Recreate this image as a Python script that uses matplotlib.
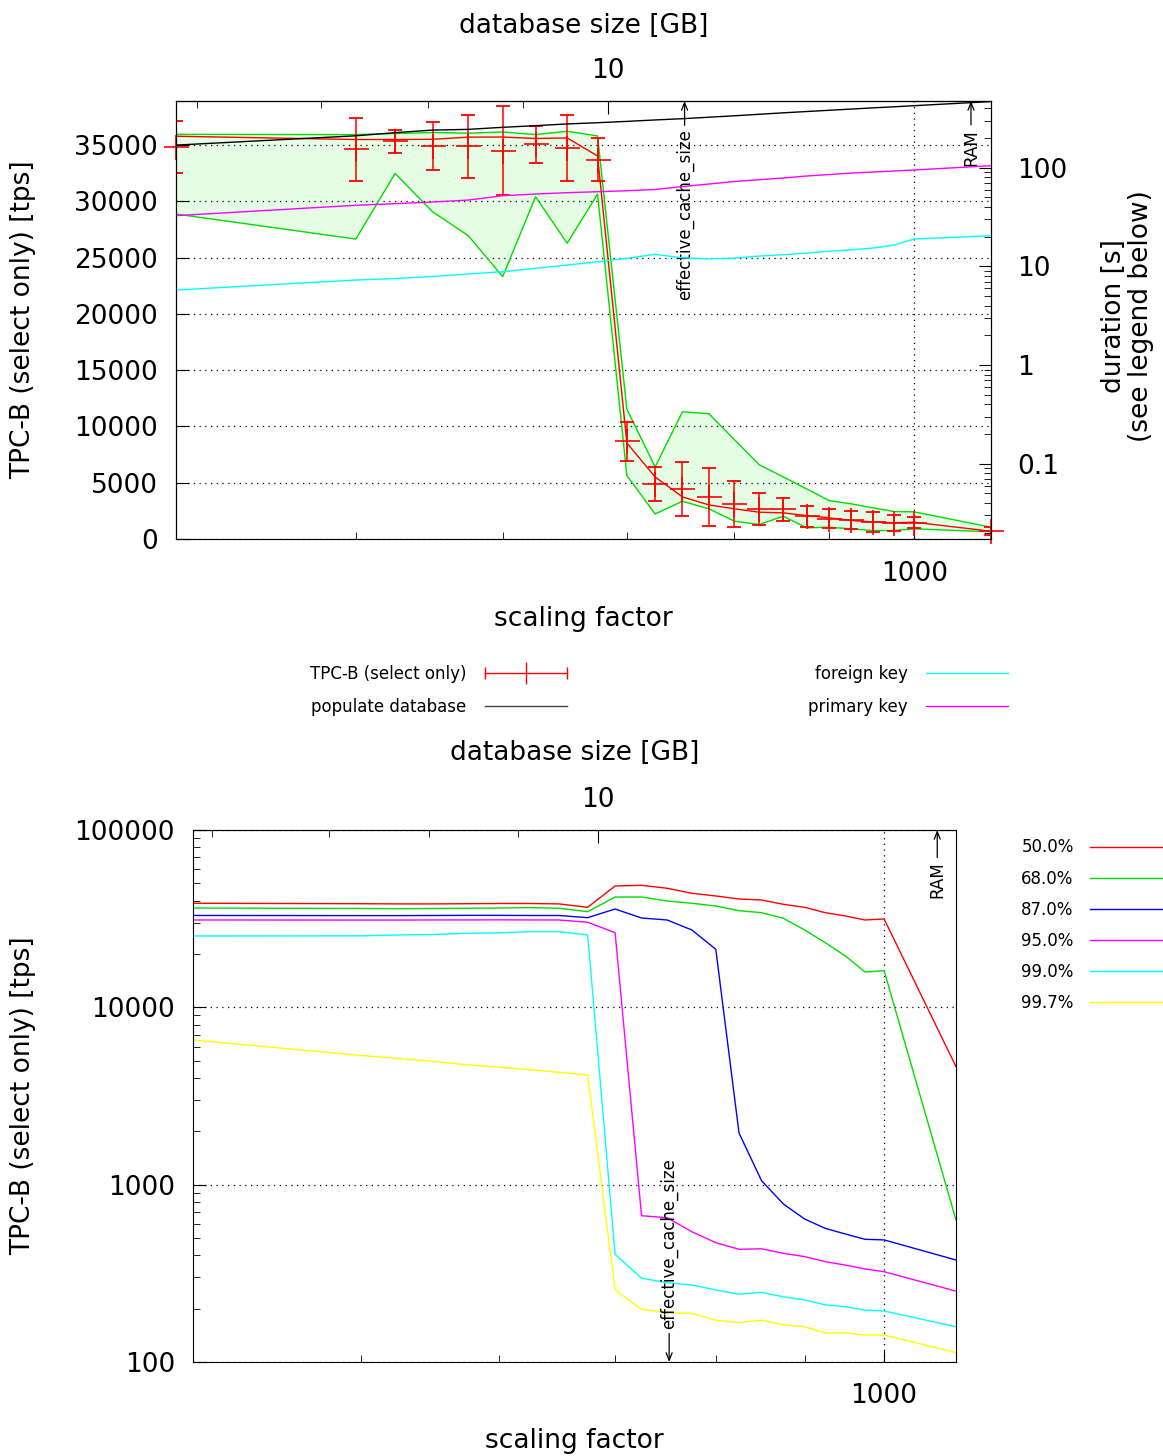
import numpy as np
import matplotlib
matplotlib.use('Agg')
import matplotlib.pyplot as plt
from matplotlib.lines import Line2D
from matplotlib.legend_handler import HandlerLine2D, HandlerTuple
from matplotlib.ticker import (LogLocator, FixedLocator, FuncFormatter,
                               NullFormatter, MultipleLocator)

plt.rcParams['font.family'] = 'DejaVu Sans'
plt.rcParams['font.size'] = 19

##---- pgbench scaling factors ----##
scale = [400, 500, 525, 550, 575, 600, 625, 650, 675, 700, 725, 750, 775,
         800, 825, 850, 875, 900, 925, 950, 975, 1000, 1100]

##---- TPC-B select only, tps ----##
tps_mean = [34820, 34620, 35330, 34910, 34880, 34470, 35060, 34730, 33700,
            8670, 4890, 4450, 3740, 3090, 2700, 2620, 2020, 1820, 1670, 1490,
            1400, 1440, 690]
tps_err = [2310, 2800, 1030, 2100, 2780, 3950, 1640, 2950, 1920,
           1720, 1480, 2410, 2600, 2020, 1420, 1020, 910, 830, 790, 870,
           710, 470, 350]
tps_median = [35770, 35480, 35480, 35500, 35690, 35700, 35570, 35620, 34020,
              8530, 5510, 3740, 3030, 2680, 2380, 2320, 2080, 1880, 1640, 1520,
              1440, 1490, 690]
tps_max = [35940, 35920, 36010, 36100, 36040, 36150, 35920, 36210, 35800,
           11540, 6400, 11300, 11130, 8820, 6600, 5510, 4450, 3410, 3120, 2770,
           2440, 2410, 1050]
tps_min = [28860, 26640, 32460, 29060, 26930, 23300, 30390, 26260, 30630,
           5630, 2230, 3350, 2680, 1580, 1290, 2020, 990, 1050, 900, 750,
           750, 900, 640]

##---- durations [s] ----##
populate_db = [169, 210, 226, 240, 244, 256, 266, 277, 285, 294, 304, 313,
               324, 335, 347, 359, 370, 381, 392, 403, 413, 424, 467]
primary_key = [32.6, 41.5, 43.1, 44.8, 46.9, 51.9, 54.0, 55.7, 57.0, 58.3,
               60.0, 64.3, 68.2, 72.3, 75.4, 78.5, 82.2, 85.1, 88.1, 90.2,
               92.4, 94.6, 104.5]
foreign_key = [5.75, 7.26, 7.52, 7.88, 8.36, 8.81, 9.55, 10.3, 11.1, 12.05,
               13.2, 12.2, 11.9, 12.1, 12.7, 13.1, 13.6, 14.2, 14.7, 15.3,
               16.4, 18.9, 20.4]

##---- tps percentiles ----##
pct_labels = ['50.0%', '68.0%', '87.0%', '95.0%', '99.0%', '99.7%']
pct_colors = ['#ff0000', '#00dd00', '#0000ff', '#ff00ff', '#00ffff', '#ffff00']
p500 = [38640, 38400, 38300, 38300, 38400, 38500, 38500, 38300, 36650,
        48330, 48770, 46930, 43970, 42460, 40820, 40300, 38110, 36650, 34180,
        32740, 31090, 31500, 4630]
p680 = [36300, 36100, 36000, 36100, 36200, 36300, 36500, 36200, 34620,
        41900, 41900, 39790, 38620, 37280, 35080, 34180, 31780, 27300, 23140,
        19480, 15820, 16090, 632]
p870 = [32960, 32900, 32900, 32950, 33000, 33000, 32950, 32950, 32030,
        35850, 31900, 31090, 27300, 21250, 1956, 1053, 778, 640, 567, 527,
        492, 488, 376]
p950 = [31090, 31050, 31050, 31100, 31100, 31150, 31100, 31090, 30180,
        26360, 668, 651, 543, 471, 432, 435, 410, 393, 368, 352, 335, 323, 251]
p990 = [25260, 25300, 25590, 25750, 26150, 26300, 26710, 26710, 25590,
        405, 297, 280, 272, 255, 241, 247, 233, 224, 210, 205, 196, 194, 158]
p997 = [6543, 5350, 5150, 4950, 4750, 4600, 4450, 4300, 4155,
        255, 198, 190, 188, 172, 167, 172, 162, 158, 146, 146, 142, 142, 113]

SCALE_PER_GB = 68.4
EFFECTIVE_CACHE = 752
RAM = 1073

grid_style = dict(color='black', linestyle=(0, (1, 3.6)), linewidth=0.9)


def gb_axis(ax, pad):
    sec = ax.secondary_xaxis('top', functions=(lambda s: s / SCALE_PER_GB,
                                               lambda g: g * SCALE_PER_GB))
    sec.xaxis.set_major_locator(FixedLocator([10]))
    sec.xaxis.set_minor_locator(FixedLocator([6, 7, 8, 9]))
    sec.xaxis.set_major_formatter(FuncFormatter(lambda v, p: '%g' % v))
    sec.xaxis.set_minor_formatter(NullFormatter())
    sec.tick_params(which='both', direction='in', pad=pad)
    sec.tick_params(which='major', length=9)
    sec.tick_params(which='minor', length=5)
    return sec


def scale_axis(ax, pad):
    ax.set_xscale('log')
    ax.set_xlim(400, 1100)
    ax.xaxis.set_major_locator(FixedLocator([1000]))
    ax.xaxis.set_minor_locator(FixedLocator([400, 500, 600, 700, 800, 900]))
    ax.xaxis.set_major_formatter(FuncFormatter(lambda v, p: '%g' % v))
    ax.xaxis.set_minor_formatter(NullFormatter())
    ax.tick_params(axis='x', which='both', direction='in', top=False, pad=pad)
    ax.tick_params(axis='x', which='major', length=9)
    ax.tick_params(axis='x', which='minor', length=5)


fig = plt.figure(figsize=(11.63, 14.56), dpi=100)

##================ top: tps + durations ================##
ax = fig.add_axes([176 / 1163, 1 - 539 / 1456, 815 / 1163, 438 / 1456])
scale_axis(ax, 16)
ax.set_ylim(0, 38900)
ax.yaxis.set_major_locator(MultipleLocator(5000))
ax.tick_params(axis='y', direction='in', length=9, pad=13)

ax.fill_between(scale, tps_min, tps_max, color='#e5fce5', lw=0)
ax.plot(scale, tps_max, color='#00dd00', lw=1)
ax.plot(scale, tps_min, color='#00dd00', lw=1)
ax.plot(scale, tps_median, color='red', lw=1)
ax.errorbar(scale, tps_mean, yerr=tps_err, fmt='none', ecolor='red',
            elinewidth=1.1, capsize=4.7, capthick=1.3)
ax.plot(scale, tps_mean, ls='none', marker='+', ms=18, mew=1.2, color='red',
        clip_on=False)

ax.yaxis.grid(True, which='major', **grid_style)
ax.xaxis.grid(True, which='major', **grid_style)

ax.set_ylabel('TPC-B (select only) [tps]', va='center', ha='center')
ax.yaxis.set_label_coords(-0.187, 0.5)
ax.set_xlabel('scaling factor', va='center')
ax.xaxis.set_label_coords(0.5, -0.182)

sec = gb_axis(ax, 12)
sec.set_xlabel('database size [GB]', va='center')
sec.xaxis.set_label_coords(0.5, 1.172, transform=ax.transAxes)

ax_r = ax.twinx()
ax_r.set_yscale('log')
ax_r.set_ylim(0.01726, 473)
ax_r.yaxis.set_major_locator(LogLocator(base=10))
ax_r.yaxis.set_minor_locator(LogLocator(base=10, subs=np.arange(2, 10)))
ax_r.yaxis.set_major_formatter(FuncFormatter(lambda v, p: '%g' % v))
ax_r.yaxis.set_minor_formatter(NullFormatter())
ax_r.tick_params(which='both', direction='in', pad=19)
ax_r.tick_params(which='major', length=9)
ax_r.tick_params(which='minor', length=5)
ax_r.plot(scale, populate_db, color='black', lw=1)
ax_r.plot(scale, foreign_key, color='#00ffff', lw=1)
ax_r.plot(scale, primary_key, color='#ff00ff', lw=1)
ax_r.set_ylabel('duration [s]\n(see legend below)', va='center', ha='center',
                rotation=90, linespacing=1.05)
ax_r.yaxis.set_label_coords(1.167, 0.51)

arrow = dict(arrowstyle='->,head_length=0.45,head_width=0.18', color='black',
             lw=0.9, shrinkA=1, shrinkB=0)
ax.annotate('effective_cache_size', xy=(EFFECTIVE_CACHE, 1.0),
            xycoords=('data', 'axes fraction'), xytext=(EFFECTIVE_CACHE, 0.74),
            textcoords=('data', 'axes fraction'), rotation=90, ha='center',
            va='center', fontsize=12, arrowprops=arrow)
ax.annotate('RAM', xy=(RAM, 1.0), xycoords=('data', 'axes fraction'),
            xytext=(RAM, 0.894), textcoords=('data', 'axes fraction'),
            rotation=90, ha='center', va='center', fontsize=12, arrowprops=arrow)

# key below the top panel
caps = Line2D([], [], color='red', lw=1, marker='|', ms=9, mew=1)
mid = Line2D([], [], color='red', ls='none', marker='|', ms=16, mew=1)
h_populate = Line2D([], [], color='#444444', lw=1)
h_fk = Line2D([], [], color='#00ffff', lw=1)
h_pk = Line2D([], [], color='#ff00ff', lw=1)
fig.legend([(caps, mid), h_populate, h_fk, h_pk],
           ['TPC-B (select only)', 'populate database', 'foreign key',
            'primary key'],
           ncol=2, loc='center', bbox_to_anchor=(0.5667, 0.5258),
           frameon=False, fontsize=12, markerfirst=False, handlelength=4.9,
           handletextpad=1.1, columnspacing=14.5, labelspacing=0.9,
           handler_map={tuple: HandlerTuple(ndivide=1),
                        caps: HandlerLine2D(numpoints=2, marker_pad=0),
                        mid: HandlerLine2D(numpoints=1)})

##================ bottom: tps percentiles ================##
ax2 = fig.add_axes([193 / 1163, 1 - 1362 / 1456, 763 / 1163, 532 / 1456])
scale_axis(ax2, 15)
ax2.set_yscale('log')
ax2.set_ylim(100, 100000)
ax2.yaxis.set_major_locator(LogLocator(base=10))
ax2.yaxis.set_minor_locator(LogLocator(base=10, subs=np.arange(2, 10)))
ax2.yaxis.set_major_formatter(FuncFormatter(lambda v, p: '%d' % v))
ax2.yaxis.set_minor_formatter(NullFormatter())
ax2.tick_params(axis='y', which='both', direction='in', pad=13)
ax2.tick_params(axis='y', which='major', length=9)
ax2.tick_params(axis='y', which='minor', length=5)

for label, color, values in zip(pct_labels, pct_colors,
                                [p500, p680, p870, p950, p990, p997]):
    ax2.plot(scale, values, color=color, lw=1, label=label)

ax2.yaxis.grid(True, which='major', **grid_style)
ax2.xaxis.grid(True, which='major', **grid_style)

ax2.set_ylabel('TPC-B (select only) [tps]', va='center', ha='center')
ax2.yaxis.set_label_coords(-0.222, 0.5)
ax2.set_xlabel('scaling factor', va='center')
ax2.xaxis.set_label_coords(0.5, -0.149)

sec2 = gb_axis(ax2, 12.5)
sec2.set_xlabel('database size [GB]', va='center')
sec2.xaxis.set_label_coords(0.5, 1.145, transform=ax2.transAxes)

ax2.annotate('effective_cache_size', xy=(EFFECTIVE_CACHE, 0.0),
             xycoords=('data', 'axes fraction'), xytext=(EFFECTIVE_CACHE, 0.222),
             textcoords=('data', 'axes fraction'), rotation=90, ha='center',
             va='center', fontsize=12, arrowprops=arrow)
ax2.annotate('RAM', xy=(RAM, 1.0), xycoords=('data', 'axes fraction'),
             xytext=(RAM, 0.906), textcoords=('data', 'axes fraction'),
             rotation=90, ha='center', va='center', fontsize=12,
             arrowprops=arrow)

ax2.legend(loc='upper left', bbox_to_anchor=(1013 / 1163, 1 - 830 / 1456),
           bbox_transform=fig.transFigure, frameon=False, fontsize=12,
           markerfirst=False, handlelength=4.6, handletextpad=1.0,
           labelspacing=0.79, borderpad=0)

fig.savefig('out.png', dpi=100)
